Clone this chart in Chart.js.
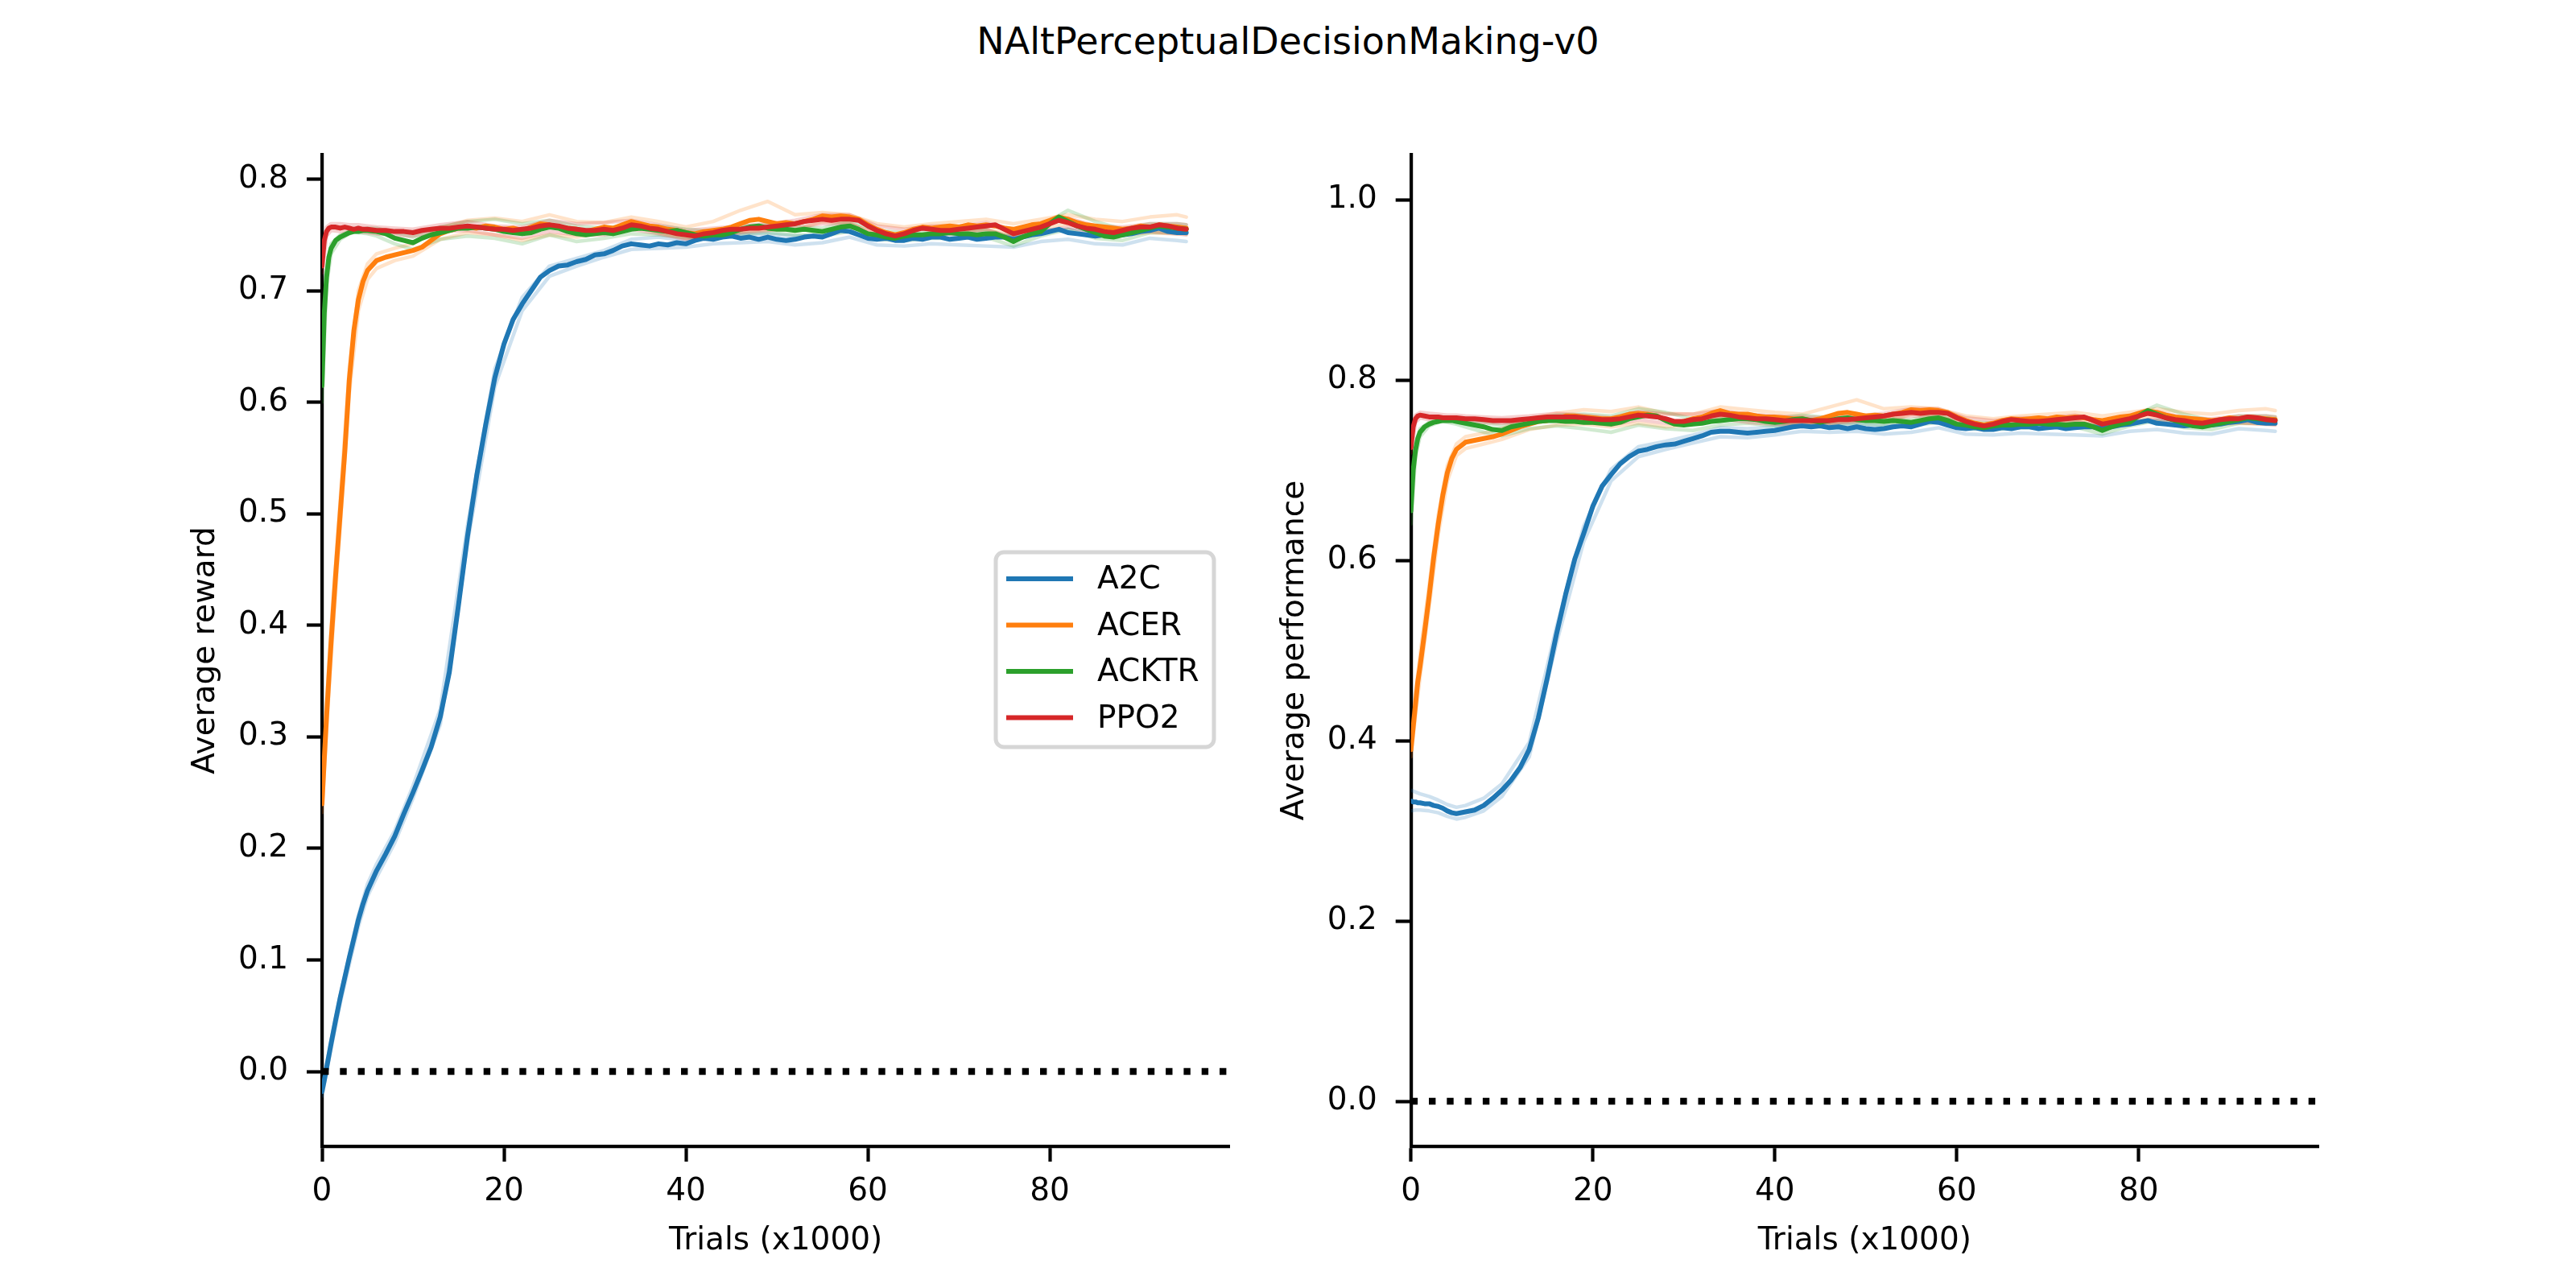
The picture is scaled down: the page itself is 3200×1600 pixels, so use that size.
<!DOCTYPE html>
<html>
<head>
<meta charset="utf-8">
<script src="https://cdn.jsdelivr.net/npm/chart.js@4.4.1/dist/chart.umd.min.js"></script>
<style>
html, body { margin: 0; padding: 0; background: #fff; }
#page { position: relative; width: 3200px; height: 1600px; }
#title { position: absolute; left: 0; top: 0; width: 3200px; height: 102px; line-height: 102px;
  text-align: center; font-family: "DejaVu Sans"; font-size: 46px; color: #000; }
#rewardChart { position: absolute; left: 0; top: 0; }
#perfChart { position: absolute; left: 1560px; top: 0; }
</style>
</head>
<body>
<div id="page">
  <div id="title">NAltPerceptualDecisionMaking-v0</div>
  <canvas id="rewardChart" width="1560" height="1600"></canvas>
  <canvas id="perfChart" width="1640" height="1600"></canvas>
</div>
<script>
// x grid of the mean curves (trials x1000)
const trials = [0,0.25,0.5,0.75,1,1.5,2,2.5,3,3.5,4,4.5,5,
  6,7,8,9,10,11,12,13,14,15,16,17,18,19,20,21,22,23,24,25,26,27,28,29,30,31,32,33,34,35,
  36,37,38,39,40,41,42,43,44,45,46,47,48,49,50,51,52,53,54,55,56,57,58,59,60,61,62,63,64,65,
  66,67,68,69,70,71,72,73,74,75,76,77,78,79,80,81,82,83,84,85,86,87,88,89,90,91,92,93,94,95];
// x grid of the single runs (faint lines)
const runTrials = [0,0.5,1,2,3,4,5,6,8,10,13,16,19,22,25,28,31,34,37,40,
  43,46,49,52,55,58,61,64,67,70,73,76,79,82,85,88,91,94,95];

const algoNames = ['A2C', 'ACER', 'ACKTR', 'PPO2'];

// axis ticks / limits
const xTicks = [0, 20, 40, 60, 80];
const rewardTicks = [0, 0.1, 0.2, 0.3, 0.4, 0.5, 0.6, 0.7, 0.8];
const perfTicks = [0, 0.2, 0.4, 0.6, 0.8, 1.0];
const trialsMin = 0, trialsMax = 99.75;
const rewardMin = -0.0671, rewardMax = 0.822;
const perfMin = -0.05, perfMax = 1.05;
const chanceLevel = 0;

// --- average reward (mean curves)
const rewardA2C = [-0.018,-0.008,0.003,0.014,0.025,0.046,0.066,0.084,0.102,0.119,0.136,0.150,0.162,
  0.180,0.195,0.211,0.231,0.250,0.270,0.291,0.318,0.358,0.418,
  0.480,0.534,0.580,0.622,0.652,0.674,0.688,0.700,0.712,0.718,
  0.722,0.723,0.726,0.728,0.732,0.733,0.736,0.740,0.742,0.741,
  0.740,0.742,0.741,0.743,0.742,0.745,0.747,0.746,0.748,0.749,
  0.747,0.748,0.746,0.748,0.746,0.745,0.746,0.748,0.749,0.748,
  0.751,0.754,0.753,0.750,0.747,0.746,0.747,0.745,0.745,0.747,
  0.746,0.748,0.748,0.746,0.747,0.748,0.746,0.747,0.748,0.748,
  0.746,0.748,0.750,0.751,0.753,0.755,0.752,0.751,0.750,0.749,
  0.750,0.751,0.750,0.751,0.753,0.754,0.756,0.753,0.752,0.752];
const rewardACER = [0.240,0.280,0.318,0.352,0.385,0.445,0.500,0.555,0.620,0.664,0.692,0.708,0.718,
  0.727,0.730,0.732,0.734,0.736,0.739,0.745,0.751,0.754,0.756,
  0.757,0.756,0.758,0.757,0.755,0.756,0.754,0.757,0.760,0.759,
  0.757,0.756,0.755,0.753,0.755,0.757,0.756,0.759,0.762,0.760,
  0.758,0.757,0.755,0.754,0.752,0.751,0.753,0.754,0.755,0.757,
  0.760,0.763,0.764,0.762,0.760,0.761,0.760,0.762,0.764,0.767,
  0.766,0.767,0.766,0.764,0.759,0.755,0.752,0.750,0.752,0.755,
  0.757,0.756,0.757,0.758,0.757,0.759,0.758,0.759,0.758,0.756,
  0.755,0.757,0.759,0.760,0.763,0.766,0.764,0.761,0.759,0.758,
  0.757,0.756,0.755,0.756,0.758,0.757,0.759,0.758,0.757,0.756];
const rewardACKTR = [0.615,0.680,0.712,0.730,0.738,0.745,0.748,0.750,0.752,0.753,0.753,0.754,0.754,
  0.753,0.751,0.747,0.745,0.743,0.747,0.750,0.752,0.754,0.756,
  0.756,0.757,0.756,0.755,0.753,0.752,0.751,0.752,0.755,0.757,
  0.756,0.753,0.751,0.750,0.751,0.752,0.751,0.753,0.755,0.756,
  0.755,0.754,0.753,0.754,0.752,0.750,0.749,0.750,0.750,0.752,
  0.755,0.757,0.758,0.756,0.755,0.755,0.754,0.755,0.754,0.753,
  0.755,0.757,0.758,0.755,0.751,0.750,0.748,0.747,0.749,0.750,
  0.750,0.751,0.751,0.752,0.751,0.751,0.750,0.751,0.751,0.748,
  0.744,0.748,0.751,0.753,0.760,0.766,0.762,0.758,0.755,0.752,
  0.749,0.748,0.750,0.752,0.754,0.756,0.758,0.757,0.756,0.755];
const rewardPPO2 = [0.722,0.745,0.753,0.756,0.757,0.757,0.756,0.757,0.756,0.755,0.756,0.755,0.755,
  0.754,0.754,0.753,0.753,0.752,0.754,0.755,0.756,0.756,0.757,
  0.758,0.757,0.756,0.755,0.755,0.754,0.755,0.756,0.758,0.759,
  0.758,0.756,0.755,0.754,0.754,0.755,0.754,0.756,0.759,0.758,
  0.756,0.755,0.753,0.751,0.750,0.749,0.751,0.752,0.754,0.755,
  0.755,0.756,0.756,0.757,0.758,0.759,0.760,0.762,0.763,0.764,
  0.763,0.764,0.764,0.763,0.758,0.754,0.751,0.749,0.751,0.754,
  0.756,0.755,0.754,0.754,0.755,0.756,0.757,0.758,0.759,0.755,
  0.751,0.753,0.755,0.757,0.760,0.763,0.761,0.758,0.756,0.755,
  0.753,0.752,0.754,0.756,0.757,0.757,0.759,0.758,0.756,0.755];

// --- average reward (single runs)
const rewardRunsA2C = [
  [-0.015,0.006,0.028,0.068,0.104,0.140,0.168,0.186,0.216,0.256,0.325,0.490,0.630,0.694,0.722,0.729,0.736,0.746,0.748,0.745,
   0.749,0.750,0.751,0.749,0.750,0.756,0.749,0.748,0.751,0.750,0.749,0.749,0.754,0.755,0.751,0.752,0.757,0.754,0.754],
  [-0.022,0.000,0.021,0.061,0.096,0.130,0.157,0.174,0.205,0.245,0.311,0.474,0.614,0.682,0.713,0.722,0.730,0.737,0.738,0.739,
   0.742,0.743,0.744,0.741,0.743,0.748,0.741,0.740,0.742,0.741,0.740,0.739,0.744,0.746,0.742,0.741,0.747,0.745,0.744]];
const rewardRunsACER = [
  [0.250,0.330,0.398,0.512,0.630,0.700,0.724,0.733,0.738,0.742,0.756,0.763,0.765,0.762,0.768,0.762,0.761,0.766,0.762,0.757,
   0.762,0.772,0.780,0.768,0.770,0.768,0.760,0.757,0.760,0.762,0.764,0.760,0.764,0.768,0.764,0.762,0.766,0.768,0.766],
  [0.232,0.306,0.372,0.488,0.608,0.682,0.710,0.720,0.727,0.731,0.746,0.752,0.750,0.745,0.750,0.748,0.752,0.758,0.752,0.747,
   0.748,0.753,0.755,0.754,0.762,0.761,0.750,0.747,0.752,0.753,0.755,0.750,0.756,0.760,0.753,0.750,0.752,0.751,0.751]];
const rewardRunsACKTR = [
  [0.600,0.705,0.733,0.746,0.751,0.754,0.756,0.756,0.752,0.748,0.757,0.762,0.764,0.760,0.763,0.758,0.756,0.759,0.758,0.755,
   0.753,0.758,0.759,0.757,0.756,0.762,0.754,0.752,0.754,0.755,0.754,0.748,0.758,0.772,0.762,0.755,0.760,0.760,0.759],
  [0.630,0.718,0.742,0.750,0.753,0.752,0.751,0.749,0.742,0.737,0.746,0.749,0.747,0.742,0.750,0.744,0.747,0.751,0.750,0.748,
   0.746,0.751,0.752,0.750,0.749,0.753,0.746,0.745,0.747,0.747,0.748,0.740,0.749,0.755,0.747,0.745,0.752,0.752,0.751]];
const rewardRunsPPO2 = [
  [0.728,0.757,0.760,0.760,0.759,0.759,0.758,0.757,0.756,0.755,0.759,0.762,0.758,0.757,0.763,0.760,0.761,0.763,0.759,0.754,
   0.756,0.758,0.760,0.763,0.768,0.768,0.758,0.755,0.758,0.758,0.761,0.755,0.760,0.765,0.758,0.757,0.760,0.760,0.759],
  [0.716,0.749,0.754,0.753,0.753,0.753,0.752,0.751,0.750,0.749,0.753,0.754,0.750,0.747,0.753,0.750,0.750,0.755,0.751,0.746,
   0.748,0.752,0.754,0.757,0.760,0.760,0.750,0.747,0.751,0.751,0.755,0.747,0.753,0.757,0.752,0.751,0.753,0.751,0.750]];

// --- average performance (mean curves)
const perfA2C = [0.333,0.332,0.332,0.331,0.331,0.330,0.330,0.328,0.327,0.325,0.322,0.320,0.319,
  0.321,0.323,0.328,0.336,0.345,0.356,0.370,0.390,0.425,0.470,
  0.518,0.562,0.601,0.630,0.660,0.682,0.695,0.707,0.715,0.721,
  0.723,0.726,0.728,0.729,0.732,0.735,0.738,0.742,0.743,0.743,
  0.742,0.741,0.742,0.743,0.744,0.746,0.748,0.749,0.748,0.749,
  0.747,0.748,0.746,0.748,0.746,0.745,0.746,0.748,0.749,0.748,
  0.751,0.754,0.753,0.750,0.747,0.746,0.747,0.745,0.745,0.747,
  0.746,0.748,0.748,0.746,0.747,0.748,0.746,0.747,0.748,0.748,
  0.746,0.748,0.750,0.751,0.753,0.755,0.752,0.751,0.750,0.749,
  0.750,0.751,0.750,0.751,0.753,0.754,0.756,0.753,0.752,0.752];
const perfACER = [0.390,0.415,0.440,0.465,0.482,0.520,0.560,0.603,0.640,0.672,0.697,0.713,0.723,
  0.731,0.733,0.735,0.737,0.740,0.744,0.748,0.751,0.754,0.755,
  0.757,0.760,0.760,0.759,0.758,0.757,0.757,0.759,0.762,0.763,
  0.762,0.760,0.756,0.752,0.754,0.757,0.759,0.763,0.766,0.763,
  0.762,0.762,0.760,0.759,0.759,0.758,0.757,0.757,0.755,0.757,
  0.760,0.763,0.764,0.762,0.760,0.761,0.760,0.762,0.764,0.767,
  0.766,0.767,0.766,0.764,0.759,0.755,0.752,0.750,0.752,0.755,
  0.757,0.756,0.757,0.758,0.757,0.759,0.758,0.759,0.758,0.756,
  0.755,0.757,0.759,0.760,0.763,0.766,0.764,0.761,0.759,0.758,
  0.757,0.756,0.755,0.756,0.758,0.757,0.759,0.758,0.757,0.756];
const perfACKTR = [0.655,0.700,0.722,0.735,0.742,0.748,0.751,0.753,0.754,0.755,0.755,0.755,0.754,
  0.752,0.750,0.748,0.745,0.744,0.748,0.750,0.752,0.754,0.755,
  0.755,0.754,0.754,0.753,0.753,0.752,0.751,0.753,0.757,0.759,
  0.761,0.760,0.755,0.751,0.750,0.751,0.752,0.754,0.755,0.756,
  0.757,0.757,0.756,0.754,0.753,0.754,0.756,0.757,0.755,0.753,
  0.755,0.757,0.758,0.756,0.755,0.755,0.754,0.755,0.754,0.753,
  0.755,0.757,0.758,0.755,0.751,0.750,0.748,0.747,0.749,0.750,
  0.750,0.751,0.751,0.752,0.751,0.751,0.750,0.751,0.751,0.748,
  0.744,0.748,0.751,0.753,0.760,0.766,0.762,0.758,0.755,0.752,
  0.749,0.748,0.750,0.752,0.754,0.756,0.758,0.757,0.756,0.755];
const perfPPO2 = [0.725,0.748,0.757,0.760,0.761,0.760,0.759,0.759,0.759,0.758,0.758,0.758,0.758,
  0.757,0.757,0.756,0.755,0.755,0.755,0.756,0.757,0.758,0.759,
  0.759,0.759,0.759,0.758,0.757,0.756,0.756,0.757,0.759,0.761,
  0.760,0.759,0.757,0.754,0.754,0.756,0.757,0.760,0.762,0.761,
  0.759,0.758,0.757,0.757,0.756,0.755,0.755,0.755,0.755,0.755,
  0.755,0.756,0.756,0.757,0.758,0.759,0.760,0.762,0.763,0.764,
  0.763,0.764,0.764,0.763,0.758,0.754,0.751,0.749,0.751,0.754,
  0.756,0.755,0.754,0.754,0.755,0.756,0.757,0.758,0.759,0.755,
  0.751,0.753,0.755,0.757,0.760,0.763,0.761,0.758,0.756,0.755,
  0.753,0.752,0.754,0.756,0.757,0.757,0.759,0.758,0.756,0.755];

// --- average performance (single runs)
const perfRunsA2C = [
  [0.345,0.343,0.341,0.338,0.334,0.329,0.326,0.328,0.336,0.352,0.398,0.526,0.638,0.701,0.726,0.732,0.739,0.747,0.746,0.748,
   0.752,0.750,0.751,0.749,0.750,0.756,0.749,0.748,0.751,0.750,0.749,0.749,0.754,0.755,0.751,0.752,0.757,0.754,0.754],
  [0.322,0.323,0.323,0.322,0.320,0.316,0.313,0.315,0.322,0.338,0.382,0.508,0.621,0.688,0.715,0.723,0.730,0.737,0.736,0.739,
   0.743,0.742,0.743,0.740,0.742,0.747,0.740,0.739,0.741,0.740,0.739,0.738,0.743,0.745,0.741,0.740,0.746,0.744,0.743]];
const perfRunsACER = [
  [0.398,0.452,0.495,0.572,0.650,0.705,0.729,0.737,0.741,0.746,0.757,0.763,0.767,0.765,0.770,0.763,0.762,0.770,0.767,0.764,
   0.762,0.770,0.778,0.768,0.770,0.768,0.760,0.757,0.760,0.762,0.764,0.760,0.764,0.768,0.764,0.762,0.766,0.768,0.766],
  [0.382,0.428,0.470,0.548,0.628,0.688,0.716,0.724,0.729,0.734,0.745,0.750,0.751,0.748,0.752,0.748,0.751,0.760,0.756,0.753,
   0.751,0.753,0.755,0.754,0.762,0.761,0.750,0.747,0.752,0.753,0.755,0.750,0.756,0.760,0.753,0.750,0.752,0.751,0.751]];
const perfRunsACKTR = [
  [0.640,0.715,0.737,0.749,0.753,0.756,0.757,0.756,0.753,0.749,0.757,0.761,0.762,0.760,0.768,0.764,0.757,0.760,0.761,0.757,
   0.761,0.758,0.759,0.757,0.756,0.762,0.754,0.752,0.754,0.755,0.754,0.748,0.758,0.772,0.762,0.755,0.760,0.760,0.759],
  [0.670,0.729,0.746,0.753,0.755,0.753,0.751,0.748,0.742,0.738,0.746,0.749,0.746,0.742,0.750,0.746,0.744,0.750,0.752,0.749,
   0.752,0.751,0.752,0.750,0.749,0.753,0.746,0.745,0.747,0.747,0.748,0.740,0.749,0.755,0.747,0.745,0.752,0.752,0.751]];
const perfRunsPPO2 = [
  [0.731,0.761,0.764,0.763,0.762,0.761,0.761,0.760,0.759,0.758,0.760,0.763,0.761,0.758,0.765,0.762,0.762,0.766,0.762,0.760,
   0.759,0.758,0.760,0.763,0.768,0.768,0.758,0.755,0.758,0.758,0.761,0.755,0.760,0.765,0.758,0.757,0.760,0.760,0.759],
  [0.719,0.753,0.758,0.756,0.756,0.755,0.755,0.754,0.753,0.752,0.754,0.755,0.753,0.750,0.756,0.752,0.751,0.757,0.753,0.751,
   0.750,0.752,0.754,0.757,0.760,0.760,0.750,0.747,0.751,0.751,0.755,0.747,0.753,0.757,0.752,0.751,0.753,0.751,0.750]];

// стили
const FONT = 'DejaVu Sans';
const algoColors = ['#1f77b4', '#ff7f0e', '#2ca02c', '#d62728'];
const runColors = ['rgba(31,119,180,0.22)', 'rgba(255,127,14,0.22)', 'rgba(44,160,44,0.22)', 'rgba(214,39,40,0.22)'];

function toPoints(xs, ys) {
  return xs.map((x, i) => ({x: x, y: ys[i]}));
}

// faint runs first, then the means, then the dotted zero line on top
function buildDatasets(means, runs) {
  let list = [];
  runs.forEach((pair, a) => {
    pair.forEach(run => {
      list.push({data: toPoints(runTrials, run), borderColor: runColors[a], borderWidth: 4.5});
    });
  });
  means.forEach((m, a) => {
    list.push({label: algoNames[a], data: toPoints(trials, m), borderColor: algoColors[a], borderWidth: 6});
  });
  list.push({
    data: toPoints([trialsMin, trialsMax], [chanceLevel, chanceLevel]),
    borderColor: '#000', borderWidth: 8.4, borderDash: [8.4, 13.9], borderCapStyle: 'butt'
  });
  list.forEach((d, i) => {
    d.order = list.length - i; //чем больше order, тем раньше рисуется
    d.pointRadius = 0;
    d.tension = 0;
    d.fill = false;
    d.borderJoinStyle = 'round';
    if (!d.borderCapStyle) d.borderCapStyle = 'round';
  });
  return list;
}

// legend drawn as in matplotlib (framed box inside the axes)
const legendPlugin = {
  id: 'mplLegend',
  afterDraw(chart, args, opts) {
    if (!opts.show) return;
    const ctx = chart.ctx, area = chart.chartArea;
    const x0 = area.left + opts.dx, y0 = area.top + opts.dy;
    ctx.save();
    ctx.beginPath();
    ctx.roundRect(x0, y0, opts.w, opts.h, 10);
    ctx.fillStyle = '#ffffff';
    ctx.fill();
    ctx.lineWidth = 5;
    ctx.strokeStyle = '#d6d6d6';
    ctx.stroke();
    ctx.font = '39px "' + FONT + '"';
    ctx.textBaseline = 'middle';
    ctx.textAlign = 'left';
    algoNames.forEach((name, i) => {
      const y = y0 + opts.rowTop + i * opts.rowStep;
      ctx.beginPath();
      ctx.moveTo(x0 + 13, y);
      ctx.lineTo(x0 + 96, y);
      ctx.lineWidth = 6;
      ctx.strokeStyle = algoColors[i];
      ctx.stroke();
      ctx.fillStyle = '#000';
      ctx.fillText(name, x0 + 126, y + 2);
    });
    ctx.restore();
  }
};

function buildOptions(cfg) {
  const tickFont = {family: FONT, size: 39};
  return {
    responsive: false,
    animation: false,
    devicePixelRatio: 1,
    layout: {padding: {left: 0, top: 192, right: cfg.padRight, bottom: 26}},
    plugins: {
      legend: {display: false},
      tooltip: {enabled: false},
      mplLegend: cfg.legend
    },
    scales: {
      x: {
        type: 'linear', min: trialsMin, max: trialsMax,
        afterBuildTicks: s => { s.ticks = xTicks.map(v => ({value: v})); },
        afterFit: s => { s.height = 150; },
        ticks: {color: '#000', font: tickFont, padding: 14, maxRotation: 0, autoSkip: false,
          callback: v => String(v)},
        grid: {display: true, drawOnChartArea: false, drawTicks: true, tickLength: 19, tickWidth: 4.2, tickColor: '#000'},
        border: {display: true, color: '#000', width: 4.2},
        title: {display: true, text: 'Trials (x1000)', color: '#000', font: tickFont, padding: {top: 0, bottom: 8.6}}
      },
      y: {
        type: 'linear', min: cfg.yMin, max: cfg.yMax,
        afterBuildTicks: s => { s.ticks = cfg.yTicks.map(v => ({value: v})); },
        afterFit: s => { s.width = cfg.yWidth; },
        ticks: {color: '#000', font: tickFont, padding: 23, autoSkip: false,
          callback: v => Number(v).toFixed(1)},
        grid: {display: true, drawOnChartArea: false, drawTicks: true, tickLength: 19, tickWidth: 4.2, tickColor: '#000'},
        border: {display: true, color: '#000', width: 4.2},
        title: {display: true, text: cfg.yTitle, color: '#000', font: tickFont, padding: {top: cfg.yTitlePad, bottom: 0}}
      }
    }
  };
}

let rewardChart = new Chart(document.getElementById('rewardChart'), {
  type: 'line',
  data: {datasets: buildDatasets(
    [rewardA2C, rewardACER, rewardACKTR, rewardPPO2],
    [rewardRunsA2C, rewardRunsACER, rewardRunsACKTR, rewardRunsPPO2])},
  options: buildOptions({
    yMin: rewardMin, yMax: rewardMax, yTicks: rewardTicks, yTitle: 'Average reward',
    yWidth: 400, yTitlePad: 232.6, padRight: 32.7,
    legend: {show: true, dx: 837, dy: 494, w: 271, h: 242, rowTop: 33, rowStep: 57.5}
  }),
  plugins: [legendPlugin]
});

let perfChart = new Chart(document.getElementById('perfChart'), {
  type: 'line',
  data: {datasets: buildDatasets(
    [perfA2C, perfACER, perfACKTR, perfPPO2],
    [perfRunsA2C, perfRunsACER, perfRunsACKTR, perfRunsPPO2])},
  options: buildOptions({
    yMin: perfMin, yMax: perfMax, yTicks: perfTicks, yTitle: 'Average performance',
    yWidth: 192.7, yTitlePad: 25.6, padRight: 320,
    legend: {show: false}
  }),
  plugins: [legendPlugin]
});
</script>
</body>
</html>
